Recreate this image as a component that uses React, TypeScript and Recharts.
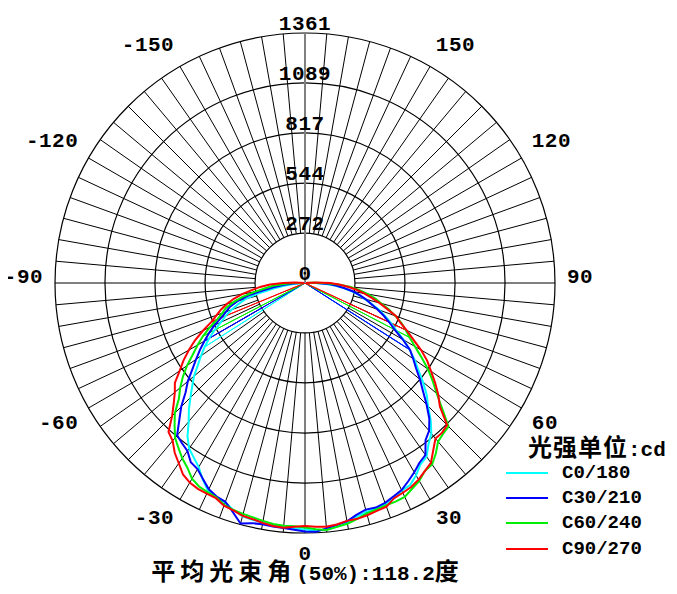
import React from 'react';
import { RadarChart, Radar, PolarGrid, PolarAngleAxis, PolarRadiusAxis, Legend } from 'recharts';

// gamma angle categories (degrees), 180 down to -177.5 in 2.5 degree steps (clockwise from the top)
const GAMMA_STEP = 2.5;
const GAMMA_ALL: number[] = Array.from({ length: 144 }, (_, i) => 180 - i * GAMMA_STEP);
// measured gamma range of the curves: -95 .. 95
const MEASURED_FROM = -95;

// radial (cd) tick labels
const RADIAL_TICKS = [0, 272, 544, 817, 1089, 1361];
const RADIAL_MAX = 1361;
// labelled gamma angles
const ANGLE_LABELS = [-150, -120, -90, -60, -30, 0, 30, 60, 90, 120, 150];

// intensity (cd) at gamma = -95, -92.5, ... , 95
const C0_180 = [
  0, 0, 0, 0, 54, 109, 174, 256, 332, 381,
  425, 468, 506, 555, 602, 648, 691, 735, 789, 833,
  882, 936, 985, 1051, 1100, 1127, 1157, 1206, 1249, 1263,
  1271, 1296, 1315, 1320, 1323, 1331, 1334, 1337,
  1342,
  1350, 1347, 1337, 1326, 1303, 1290, 1287, 1279, 1268, 1247,
  1240, 1209, 1170, 1154, 1105, 1070, 1013, 947, 898, 838,
  778, 729, 675, 621, 561, 517, 474, 430, 381, 338,
  299, 256, 212, 163, 114, 54, 0, 0,
];
const C30_210 = [
  0, 0, 27, 65, 114, 174, 234, 316, 381, 428,
  457, 495, 544, 588, 632, 678, 724, 773, 833, 882,
  953, 1013, 1083, 1100, 1116, 1157, 1170, 1203, 1239, 1258,
  1268, 1307, 1356, 1339, 1334, 1337, 1339, 1345,
  1353,
  1356, 1341, 1328, 1317, 1293, 1277, 1282, 1274, 1258, 1244,
  1217, 1190, 1160, 1143, 1078, 1051, 1002, 936, 871, 817,
  762, 719, 678, 615, 550, 506, 463, 419, 376, 343,
  305, 267, 218, 174, 131, 65, 0, 0,
];
const C60_240 = [
  0, 0, 65, 114, 174, 218, 278, 348, 403, 452,
  479, 517, 572, 626, 675, 724, 784, 838, 887, 931,
  1002, 1051, 1100, 1132, 1165, 1192, 1230, 1249, 1256, 1263,
  1285, 1296, 1301, 1307, 1315, 1323, 1326, 1325,
  1331,
  1342, 1350, 1339, 1331, 1315, 1298, 1293, 1288, 1288, 1285,
  1263, 1244, 1214, 1206, 1170, 1127, 1113, 1105, 1013, 936,
  876, 817, 751, 691, 642, 604, 569, 523, 479, 430,
  392, 348, 299, 250, 180, 109, 44, 0,
];
const C90_270 = [
  0, 54, 120, 191, 245, 289, 348, 397, 441, 479,
  512, 550, 612, 675, 730, 784, 833, 893, 925, 969,
  1023, 1100, 1121, 1165, 1198, 1236, 1255, 1263, 1265, 1268,
  1290, 1298, 1312, 1317, 1326, 1334, 1337, 1328,
  1323,
  1328, 1332, 1326, 1315, 1315, 1309, 1301, 1296, 1268, 1260,
  1252, 1236, 1214, 1195, 1147, 1105, 1105, 1094, 996, 947,
  893, 838, 789, 730, 664, 612, 561, 528, 468, 419,
  370, 327, 283, 234, 185, 136, 54, 0,
];

// gamma angles where a thin connector runs from the centre to the curve
const LINK_C0 = [-57.5, 57.5];
const LINK_C30 = [-60, 57.5];
const LINK_C60 = [-62.5, 62.5];
const LINK_C90 = [-67.5, 65];

const SERIES = [
  { key: 'c0', name: 'C0/180', color: '#00ffff', values: C0_180, links: LINK_C0 },
  { key: 'c30', name: 'C30/210', color: '#0000ff', values: C30_210, links: LINK_C30 },
  { key: 'c60', name: 'C60/240', color: '#00ee00', values: C60_240, links: LINK_C60 },
  { key: 'c90', name: 'C90/270', color: '#ff0000', values: C90_270, links: LINK_C90 },
];

const valueAt = (values: number[], g: number) => {
  const idx = Math.round((g - MEASURED_FROM) / GAMMA_STEP);
  return idx >= 0 && idx < values.length ? values[idx] : 0;
};

const TABLE = GAMMA_ALL.map((g) => {
  const row: any = { gamma: g };
  SERIES.forEach((s) => {
    row[s.key] = valueAt(s.values, g);
    row[s.key + 'Link'] = s.links.includes(g) ? valueAt(s.values, g) : 0;
  });
  return row;
});
const GRID_TABLE = TABLE.filter((_, i) => i % 2 === 0);

const W = 669;
const H = 586;
const CX = 297;
const CY = 275;
const R = 250;
const MONO = '"Liberation Mono", "DejaVu Sans Mono", monospace';
const CJK = '"Noto Sans CJK SC", "Noto Sans", sans-serif';

const AngleTick = (props: any) => {
  const { x, y, payload } = props;
  const g = Number(payload.value);
  if (!ANGLE_LABELS.includes(g)) return null;
  const a = (payload.coordinate * Math.PI) / 180;
  const dx = Math.cos(a);
  const dy = -Math.sin(a);
  const label = String(g);
  const w = label.length * 13;
  const px = x + dx * 4 + (Math.abs(dx) > 0.01 ? Math.sign(dx) * (w / 2) : 0);
  const py = y + dy * 4 + (dy > 0.01 ? 9 : dy < -0.01 ? -11 : -6);
  return (
    <text
      x={px}
      y={py}
      textAnchor="middle"
      dominantBaseline="central"
      fontFamily={MONO}
      fontWeight="bold"
      fontSize={21}
      letterSpacing={0.5}
      fill="#000"
    >
      {label}
    </text>
  );
};

const RadiusTick = (props: any) => {
  const { x, y, payload } = props;
  return (
    <text
      x={x}
      y={y - 3}
      textAnchor="middle"
      fontFamily={MONO}
      fontWeight="bold"
      fontSize={21}
      letterSpacing={0.5}
      fill="#000"
    >
      {payload.value}
    </text>
  );
};

const LegendContent = () => (
  <div style={{ fontFamily: MONO, fontWeight: 'bold', color: '#000' }}>
    <div style={{ fontSize: 21, height: 28, lineHeight: '28px', marginLeft: 22, whiteSpace: 'nowrap' }}>
      <span style={{ fontFamily: CJK, fontSize: 24, letterSpacing: 1 }}>光强单位</span>
      <span>:cd</span>
    </div>
    {SERIES.map((s) => (
      <div key={s.key} style={{ display: 'flex', alignItems: 'center', height: 25.3 }}>
        <svg width={42} height={4} style={{ display: 'block' }}>
          <line x1={0} y1={2} x2={42} y2={2} stroke={s.color} strokeWidth={2} />
        </svg>
        <span style={{ marginLeft: 14, fontSize: 19, whiteSpace: 'nowrap' }}>{s.name}</span>
      </div>
    ))}
  </div>
);

export default function App() {
  return (
    <div style={{ position: 'relative', width: W, height: H }}>
      <div style={{ position: 'absolute', left: 0, top: 0 }}>
        <RadarChart width={W} height={H} data={GRID_TABLE} cx={CX} cy={CY} innerRadius={50} outerRadius={R}>
          <PolarGrid gridType="circle" polarRadius={[]} stroke="#000" strokeWidth={1} />
          <PolarAngleAxis dataKey="gamma" tick={false} tickLine={false} axisLine={false} />
          <PolarRadiusAxis domain={[0, RADIAL_MAX]} tick={false} axisLine={false} />
          <Radar dataKey="c0" stroke="none" fill="none" isAnimationActive={false} />
        </RadarChart>
      </div>
      <div style={{ position: 'absolute', left: 0, top: 0 }}>
        <RadarChart width={W} height={H} data={TABLE} cx={CX} cy={CY} innerRadius={0} outerRadius={R}>
          <PolarGrid gridType="circle" radialLines={false} stroke="#000" strokeWidth={1.2} />
          <PolarAngleAxis dataKey="gamma" tick={<AngleTick />} tickLine={false} axisLine={false} />
          <PolarRadiusAxis
            angle={270}
            radiusAxisId="down"
            domain={[0, RADIAL_MAX]}
            ticks={RADIAL_TICKS}
            tick={false}
            axisLine={{ stroke: '#808080', strokeWidth: 2 }}
          />
          <PolarRadiusAxis
            angle={90}
            domain={[0, RADIAL_MAX]}
            ticks={RADIAL_TICKS}
            tick={<RadiusTick />}
            tickLine={false}
            axisLine={{ stroke: '#808080', strokeWidth: 2 }}
          />
          {SERIES.map((s) => (
            <Radar
              key={s.key + 'Link'}
              dataKey={s.key + 'Link'}
              stroke={s.color}
              strokeWidth={1}
              fill="none"
              dot={false}
              legendType="none"
              isAnimationActive={false}
            />
          ))}
          {SERIES.map((s) => (
            <Radar
              key={s.key}
              name={s.name}
              dataKey={s.key}
              stroke={s.color}
              strokeWidth={2}
              fill="none"
              dot={false}
              isAnimationActive={false}
            />
          ))}
          <Legend
            content={<LegendContent />}
            wrapperStyle={{ position: 'absolute', left: 498, top: 424, width: 170 }}
          />
        </RadarChart>
      </div>
      <div
        style={{
          position: 'absolute',
          left: 97,
          top: 548,
          width: 400,
          textAlign: 'center',
          whiteSpace: 'nowrap',
          fontWeight: 'bold',
          color: '#000',
          lineHeight: '28px',
        }}
      >
        <span style={{ fontFamily: CJK, fontSize: 24, letterSpacing: 5 }}>平均光束角</span>
        <span style={{ fontFamily: MONO, fontSize: 21 }}>(50%):118.2</span>
        <span style={{ fontFamily: CJK, fontSize: 24 }}>度</span>
      </div>
    </div>
  );
}
